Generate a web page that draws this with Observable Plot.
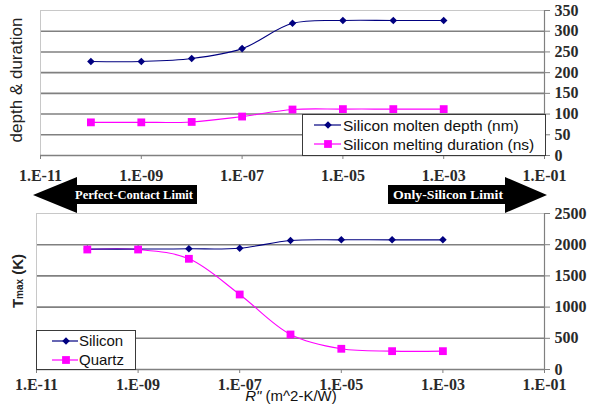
<!DOCTYPE html>
<html><head><meta charset="utf-8">
<script src="https://cdn.jsdelivr.net/npm/d3@7"></script>
<script src="https://cdn.jsdelivr.net/npm/@observablehq/plot@0.6"></script>
<style>
body{margin:0;background:#fff;}
#wrap{position:relative;width:595px;height:405px;overflow:hidden;background:#fff;}
#wrap svg{position:absolute;left:0;}
</style></head><body><div id="wrap"></div>
<script>
// ---- data ----
const rValues = [1e-10, 1e-9, 1e-8, 1e-7, 1e-6, 1e-5, 1e-4, 1e-3];
const moltenDepth = [227, 227, 234, 258, 319, 326, 326, 326];
const meltDuration = [80, 80, 81, 94, 111, 112, 112, 112];
const tmaxSilicon = [1930, 1930, 1934, 1944, 2067, 2078, 2078, 2078];
const tmaxQuartz = [1923, 1923, 1774, 1202, 561, 332, 294, 294];
const xTicks = [1e-11, 1e-9, 1e-7, 1e-5, 1e-3, 1e-1];
const xTickLabels = ["1.E-11", "1.E-09", "1.E-07", "1.E-05", "1.E-03", "1.E-01"];
const topTicks = [0, 50, 100, 150, 200, 250, 300, 350];
const bottomTicks = [0, 500, 1000, 1500, 2000, 2500];
const topSeries = ["Silicon molten depth (nm)", "Silicon melting duration (ns)"];
const bottomSeries = ["Silicon", "Quartz"];
const arrowLabels = ["Perfect-Contact Limit", "Only-Silicon Limit"];
const topYLabel = "depth & duration";
const xTitle = ["R\"", " (m^2-K/W)"];

const NAVY = "#000080", MAG = "#ff00ff", GRID = "#808080";
const SERIF = "Liberation Serif";
const wrap = document.getElementById("wrap");
const xLabel = d => xTickLabels[xTicks.indexOf(d)];

function rowsOf(vals) { return rValues.map((r, i) => ({r, v: vals[i]})); }

function panel(o) {
  const marks = [
    Plot.ruleY(o.ticks.slice(1, -1), {stroke: GRID, strokeWidth: 1.6}),
    Plot.frame({stroke: "#c8c8c8"}),
    Plot.ruleY([0], {stroke: GRID, strokeWidth: 1.6}),
    Plot.ruleX([1e-1], {stroke: GRID, strokeWidth: 1.2}),
    Plot.axisX({ticks: xTicks, tickSize: 4, tickFormat: () => "", stroke: GRID, label: null}),
    Plot.text(xTicks, {x: d => d, text: xLabel, frameAnchor: "bottom", dy: o.xDy, lineAnchor: "middle",
      fontFamily: SERIF, fontSize: 16, fontWeight: "bold", fill: "#2a2a2a"}),
    Plot.axisY({anchor: "right", ticks: o.ticks, tickSize: 5, tickFormat: () => "", stroke: GRID, label: null}),
    Plot.text(o.ticks, {y: d => d, text: d => String(d), frameAnchor: "right", dx: 10, textAnchor: "start",
      lineAnchor: "middle", fontFamily: SERIF, fontSize: 16, fontWeight: "bold", fill: "#2a2a2a"}),
  ];
  for (const s of o.series) {
    if (s.line) marks.push(Plot.line(rowsOf(s.vals), {x: "r", y: "v", stroke: s.color, strokeWidth: 1.1, curve: "catmull-rom"}));
    if (s.dots) marks.push(Plot.dot(rowsOf(s.vals), {x: "r", y: "v", symbol: s.symbol, r: s.r, fill: s.color, stroke: "none"}));
  }
  const svg = Plot.plot({
    width: 595, height: o.height,
    marginTop: o.mt, marginBottom: o.mb, marginLeft: o.ml, marginRight: o.mr,
    style: {background: "transparent", color: "#111", overflow: "visible"},
    x: {type: "log", domain: [1e-11, 1e-1]},
    y: {domain: o.domain},
    marks
  });
  svg.style.top = o.top + "px";
  wrap.appendChild(svg);
}

panel({top: 0, height: 195, mt: 10, mb: 40, ml: 40, mr: 51, domain: [0, 350], ticks: topTicks, xDy: 20,
  series: [
    {vals: moltenDepth, color: NAVY, symbol: "diamond2", r: 3.4, line: true, dots: true},
    {vals: meltDuration, color: MAG, symbol: "square", r: 4.4, line: true, dots: true}
  ]});

panel({top: 180, height: 225, mt: 33, mb: 36, ml: 36, mr: 51, domain: [0, 2500], ticks: bottomTicks, xDy: 15,
  series: [
    {vals: tmaxQuartz, color: MAG, line: true},
    {vals: tmaxSilicon, color: NAVY, symbol: "diamond2", r: 3.4, line: true, dots: true},
    {vals: tmaxQuartz, color: MAG, symbol: "square", r: 4.4, dots: true}
  ]});

// ---- overlay: legends, axis titles, arrows ----
const ov = d3.create("svg").attr("width", 595).attr("height", 405).style("top", "0px")
  .style("font-family", "'Liberation Sans', Arial, sans-serif");
const sym = (type, r) => d3.symbol(type, Math.PI * r * r)();

function legend(x, y, w, h, items, lx1, lx2, mx, tx, rowsY, fs) {
  ov.append("rect").attr("x", x + 0.5).attr("y", y + 0.5).attr("width", w).attr("height", h)
    .attr("fill", "#fff").attr("stroke", "#3a3a3a");
  items.forEach((it, i) => {
    const yy = rowsY[i];
    ov.append("line").attr("x1", lx1).attr("x2", lx2).attr("y1", yy).attr("y2", yy).attr("stroke", it.color).attr("stroke-width", 1.2);
    ov.append("path").attr("d", sym(it.type, it.r)).attr("transform", `translate(${mx},${yy})`).attr("fill", it.color);
    ov.append("text").attr("x", tx).attr("y", yy).attr("dy", "0.36em").attr("font-size", fs).attr("fill", "#111").text(it.label);
  });
}
legend(302, 114, 243, 41, [
  {label: topSeries[0], color: NAVY, type: d3.symbolDiamond2, r: 3.4},
  {label: topSeries[1], color: MAG, type: d3.symbolSquare, r: 4.4}
], 314, 341, 328, 343, [125, 144], "15.5px");
legend(36, 330, 99, 39, [
  {label: bottomSeries[0], color: NAVY, type: d3.symbolDiamond2, r: 3.4},
  {label: bottomSeries[1], color: MAG, type: d3.symbolSquare, r: 4.4}
], 52, 78, 66, 79, [341, 360], "15px");

// y titles
ov.append("text").attr("transform", "translate(22,80) rotate(-90)").attr("text-anchor", "middle")
  .attr("font-size", "17px").attr("fill", "#222").text(topYLabel);
const tm = ov.append("text").attr("transform", "translate(23,281) rotate(-90)").attr("text-anchor", "middle")
  .attr("font-weight", "bold").attr("fill", "#222");
tm.append("tspan").attr("font-size", "15px").text("T");
tm.append("tspan").attr("font-size", "10px").text("max");
tm.append("tspan").attr("font-size", "15px").text(" (K)");

// x title
const xt = ov.append("text").attr("x", 291).attr("y", 401).attr("text-anchor", "middle").attr("font-size", "15px").attr("fill", "#111");
xt.append("tspan").attr("font-style", "italic").text(xTitle[0]);
xt.append("tspan").text(xTitle[1]);

// arrows
ov.append("polygon").attr("points", "33,195 77,177 77,185 197,185 197,204 77,204 77,213").attr("fill", "#000");
ov.append("polygon").attr("points", "388,185 505,185 505,177 547,195 505,213 505,204 388,204").attr("fill", "#000");
const af = "'Liberation Serif', serif";
ov.append("text").attr("x", 75).attr("y", 199).attr("textLength", 118).attr("lengthAdjust", "spacingAndGlyphs")
  .attr("font-family", af).attr("font-weight", "bold").attr("font-size", "13px").attr("fill", "#fff").text(arrowLabels[0]);
ov.append("text").attr("x", 393).attr("y", 199).attr("textLength", 110).attr("lengthAdjust", "spacingAndGlyphs")
  .attr("font-family", af).attr("font-weight", "bold").attr("font-size", "13px").attr("fill", "#fff").text(arrowLabels[1]);

wrap.appendChild(ov.node());
</script>
</body></html>
